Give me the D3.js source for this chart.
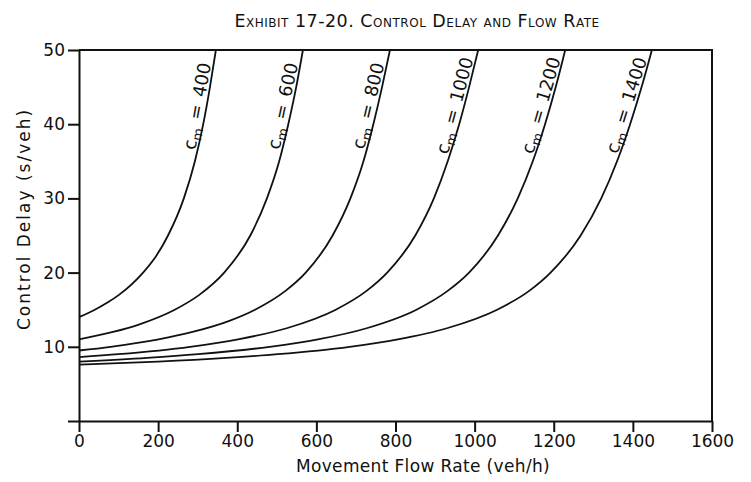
<!DOCTYPE html>
<html>
<head>
<meta charset="utf-8">
<script src="https://cdn.jsdelivr.net/npm/d3@7"></script>
<style>
  html, body { margin: 0; padding: 0; background: #fff; }
  svg { display: block; }
  text { font-family: "DejaVu Sans", sans-serif; fill: #111; }
</style>
</head>
<body>
<svg id="chart" width="751" height="482"></svg>
<script>
// ---- data ----
const capacities = [400, 600, 800, 1000, 1200, 1400];

const flow400  = [0, 40, 73, 101, 162, 192, 225, 265, 293, 314, 331, 346];
const delay400 = [14, 15, 16, 17, 20, 22, 25, 30, 35, 40, 45, 50];

const flow600  = [0, 86, 151, 242, 304, 367, 433, 475, 506, 529, 549, 566];
const delay600 = [11, 12, 13, 15, 17, 20, 25, 30, 35, 40, 45, 50];

const flow800  = [0, 80, 201, 287, 380, 445, 521, 573, 641, 686, 719, 744, 766, 786];
const delay800 = [9.5, 10, 11, 12, 13.5, 15, 17.5, 20, 25, 30, 35, 40, 45, 50];

const flow1000  = [0, 100, 281, 402, 525, 649, 726, 779, 850, 897, 932, 961, 986, 1009];
const delay1000 = [8.6, 9, 10, 11, 12.5, 15, 17.5, 20, 25, 30, 35, 40, 45, 50];

const flow1200  = [0, 172, 301, 482, 604, 727, 853, 931, 986, 1059, 1109, 1147, 1178, 1205, 1229];
const delay1200 = [8, 8.5, 9, 10, 11, 12.5, 15, 17.5, 20, 25, 30, 35, 40, 45, 50];

const flow1400  = [0, 200, 372, 502, 684, 806, 930, 1057, 1137, 1192, 1268, 1320, 1360, 1393, 1422, 1448];
const delay1400 = [7.6, 8, 8.5, 9, 10, 11, 12.5, 15, 17.5, 20, 25, 30, 35, 40, 45, 50];

const xTicks = [0, 200, 400, 600, 800, 1000, 1200, 1400, 1600];
const yTicks = [0, 10, 20, 30, 40, 50];

const titleText = "Exhibit 17-20. Control Delay and Flow Rate";
const xLabel = "Movement Flow Rate (veh/h)";
const yLabel = "Control Delay (s/veh)";

// ---- layout ----
const series = [
  { c: capacities[0], flow: flow400,  delay: delay400 },
  { c: capacities[1], flow: flow600,  delay: delay600 },
  { c: capacities[2], flow: flow800,  delay: delay800 },
  { c: capacities[3], flow: flow1000, delay: delay1000 },
  { c: capacities[4], flow: flow1200, delay: delay1200 },
  { c: capacities[5], flow: flow1400, delay: delay1400 }
];

const svg = d3.select("#chart");
const x = d3.scaleLinear().domain([0, 1600]).range([79, 712]);
const y = d3.scaleLinear().domain([0, 50]).range([421, 50]);

// title
svg.append("text")
  .attr("x", 417).attr("y", 27)
  .attr("text-anchor", "middle")
  .style("font-size", "17.5px")
  .style("letter-spacing", "0.5px")
  .style("font-variant", "small-caps")
  .text(titleText);

// frame (top + right)
svg.append("path")
  .attr("d", `M${x(0)},${y(50)}H${x(1600)}V${y(0)}`)
  .attr("fill", "none").attr("stroke", "#111").attr("stroke-width", 2);

// axes
const xAxis = d3.axisBottom(x).tickValues(xTicks).tickSize(11).tickSizeOuter(0).tickPadding(3)
  .tickFormat(d3.format("d"));
const yAxis = d3.axisLeft(y).tickValues(yTicks).tickSize(11).tickSizeOuter(0).tickPadding(3)
  .tickFormat(d => d === 0 ? "" : d);

const gx = svg.append("g").attr("transform", `translate(0,${y(0)})`).call(xAxis);
const gy = svg.append("g").attr("transform", `translate(${x(0)},0)`).call(yAxis);
[gx, gy].forEach(g => {
  g.selectAll("path, line").attr("stroke", "#111").attr("stroke-width", 2);
  g.selectAll("text").style("font-size", "17px").style("font-family", "DejaVu Sans, sans-serif").attr("fill", "#111");
});

// axis labels
svg.append("text")
  .attr("x", 423).attr("y", 472)
  .attr("text-anchor", "middle")
  .style("font-size", "17px")
  .style("letter-spacing", "0.35px")
  .text(xLabel);
svg.append("text")
  .attr("transform", `translate(30,219) rotate(-90)`)
  .attr("text-anchor", "middle")
  .style("font-size", "17px")
  .style("letter-spacing", "2px")
  .text(yLabel);

// curves
const line = d3.line()
  .x(d => x(d[0]))
  .y(d => y(d[1]))
  .curve(d3.curveMonotoneX);

series.forEach(s => {
  const pts = s.flow.map((f, i) => [f, s.delay[i]]);
  svg.append("path")
    .datum(pts)
    .attr("d", line)
    .attr("fill", "none")
    .attr("stroke", "#111")
    .attr("stroke-width", 1.8);

  // label along curve near top
  const labelDelay = 42.2;
  const inv = d3.scaleLinear().domain(s.delay).range(s.flow);
  const px = x(inv(labelDelay));
  const py = y(labelDelay);
  const dx = x(inv(labelDelay + 2.5)) - x(inv(labelDelay - 2.5));
  const dy = y(labelDelay + 2.5) - y(labelDelay - 2.5);
  const ang = Math.atan2(dy, dx) * 180 / Math.PI;
  const t = svg.append("text")
    .attr("transform", `translate(${px},${py}) rotate(${ang})`)
    .attr("text-anchor", "middle")
    .attr("y", -3)
    .style("font-size", "18px");
  t.append("tspan").text("c");
  t.append("tspan").attr("dy", 4).style("font-size", "13px").text("m");
  t.append("tspan").attr("dy", -4).attr("dx", 8).text("=");
  t.append("tspan").attr("dx", 8).text(s.c);
});
</script>
</body>
</html>
